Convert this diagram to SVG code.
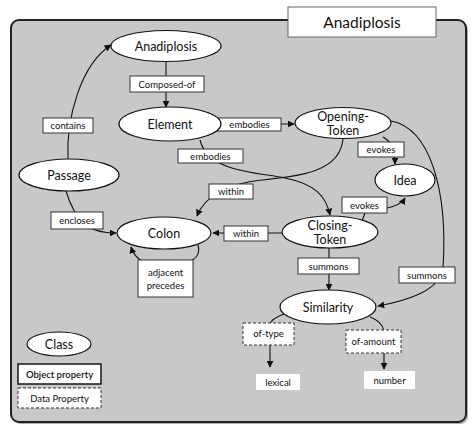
<svg xmlns="http://www.w3.org/2000/svg" width="474" height="431" viewBox="0 0 474 431">
<defs>
<marker id="arr" viewBox="0 0 10 10" refX="9" refY="5" markerWidth="7" markerHeight="7" orient="auto" markerUnits="userSpaceOnUse">
<path d="M0,0 L10,5 L0,10 z" fill="#111"/>
</marker>
<style>
.node ellipse{fill:#fff;stroke:#111;stroke-width:1.2}
.nt{font-family:Lato,"Liberation Sans",sans-serif;font-size:12.5px;fill:#111;text-anchor:middle}
.conn path{fill:none;stroke:#111;stroke-width:1.1;marker-end:url(#arr)}
.lb rect{fill:#fff;stroke:#333;stroke-width:1}
.lb rect.dash{stroke-dasharray:3,2}
.lt{font-family:Lato,"Liberation Sans",sans-serif;font-size:9.5px;fill:#111;text-anchor:middle}
.val rect{fill:#fff;stroke:none}
</style>
</defs>
<rect width="474" height="431" fill="#fff"/>
<rect x="13" y="23" width="455" height="401" rx="8" fill="#777" opacity="0.6"/>
<rect x="11" y="20" width="455" height="402" rx="8" fill="#c8c8c8" stroke="#222" stroke-width="2"/>
<g id="title">
<rect x="288" y="7" width="148" height="30" fill="#fff" stroke="#666" stroke-width="1"/>
<text x="362" y="28" font-family="Lato,'Liberation Sans',sans-serif" font-size="15.5" fill="#111" text-anchor="middle">Anadiplosis</text>
</g>
<g id="connectors" class="conn">
<path d="M68,159 C66,120 80,65 111,45"/>
<path d="M166,62 L166,107"/>
<path d="M221,124 L294,124"/>
<path d="M200,140 C208,172 255,172 285,178 S326,196 330,215"/>
<path d="M343,139 C340,172 300,176 262,180 C225,184 205,196 197,216"/>
<path d="M282,233 L213,233"/>
<path d="M66,191 C70,205 75,215 85,225 C95,232 105,233 116,233"/>
<path d="M198,245 C203,262 180,266 165,266 C148,266 135,260 131,247"/>
<path d="M383,137 C392,142 395,150 395,164"/>
<path d="M362,221 L366,210 L387,208 C397,206 402,203 405,198"/>
<path d="M391,121 C430,128 448,190 443,268 C440,290 410,300 378,306"/>
<path d="M329,248 L329,290"/>
<path d="M284,314 C276,317 271,320 270,324 L270,367"/>
<path d="M370,317 C378,320 383,325 384,331 L384,369"/>
</g>
<g id="edge-labels" class="lb">
<g id="lbl-contains"><rect x="43" y="118" width="50" height="15"/><text class="lt" x="68" y="129">contains</text></g>
<g id="lbl-composed"><rect x="130" y="76" width="74" height="16"/><text class="lt" x="167" y="87.5">Composed-of</text></g>
<g id="lbl-embodies1"><rect x="218" y="118" width="63" height="13"/><text class="lt" x="249.5" y="128">embodies</text></g>
<g id="lbl-embodies2"><rect x="178" y="149" width="65" height="14"/><text class="lt" x="210.5" y="159.5">embodies</text></g>
<g id="lbl-within1"><rect x="209" y="184" width="44" height="15"/><text class="lt" x="231" y="195">within</text></g>
<g id="lbl-within2"><rect x="224" y="226" width="44" height="15"/><text class="lt" x="246" y="237">within</text></g>
<g id="lbl-encloses"><rect x="51" y="212" width="52" height="17"/><text class="lt" x="77" y="224">encloses</text></g>
<g id="lbl-adjacent"><rect x="138" y="260" width="55" height="37"/><text class="lt" x="165.5" y="276">adjacent</text><text class="lt" x="165.5" y="289">precedes</text></g>
<g id="lbl-evokes1"><rect x="358" y="142" width="46" height="15"/><text class="lt" x="381" y="153">evokes</text></g>
<g id="lbl-evokes2"><rect x="342" y="197" width="45" height="16"/><text class="lt" x="364.5" y="208.5">evokes</text></g>
<g id="lbl-summons1"><rect x="298" y="258" width="61" height="16"/><text class="lt" x="328.5" y="269.5">summons</text></g>
<g id="lbl-summons2"><rect x="399" y="267" width="56" height="16"/><text class="lt" x="427" y="278.5">summons</text></g>
<g id="lbl-oftype"><rect class="dash" x="243" y="323" width="51" height="22"/><text class="lt" x="268.5" y="337">of-type</text></g>
<g id="lbl-ofamount"><rect class="dash" x="346" y="330" width="55" height="23"/><text class="lt" x="373.5" y="344.5">of-amount</text></g>
</g>
<g id="node-anadiplosis" class="node"><ellipse cx="166" cy="46" rx="55" ry="15.5"/><text class="nt" x="166" y="50.5">Anadiplosis</text></g>
<g id="node-element" class="node"><ellipse cx="170" cy="124" rx="51" ry="17"/><text class="nt" x="170" y="128.5">Element</text></g>
<g id="node-passage" class="node"><ellipse cx="69" cy="175" rx="50" ry="16"/><text class="nt" x="69" y="179.5">Passage</text></g>
<g id="node-opening" class="node"><ellipse cx="343" cy="123" rx="48" ry="15.5"/><text class="nt" x="343" y="120.5">Opening-</text><text class="nt" x="343" y="134.5">Token</text></g>
<g id="node-idea" class="node"><ellipse cx="405" cy="180" rx="30" ry="16"/><text class="nt" x="405" y="184.5">Idea</text></g>
<g id="node-colon" class="node"><ellipse cx="164" cy="233" rx="47" ry="16"/><text class="nt" x="164" y="237.5">Colon</text></g>
<g id="node-closing" class="node"><ellipse cx="330" cy="232" rx="48" ry="16"/><text class="nt" x="330" y="230">Closing-</text><text class="nt" x="330" y="244">Token</text></g>
<g id="node-similarity" class="node"><ellipse cx="328" cy="307" rx="48" ry="17"/><text class="nt" x="328" y="311.5">Similarity</text></g>
<g id="node-lexical" class="val"><rect x="256" y="374" width="44" height="16"/><text class="lt" x="278" y="385.5">lexical</text></g>
<g id="node-number" class="val"><rect x="364" y="371" width="51" height="18"/><text class="lt" x="389.5" y="383.5">number</text></g>
<g id="legend">
<g class="node"><ellipse cx="59" cy="344" rx="32" ry="12"/><text class="nt" x="59" y="348.5">Class</text></g>
<rect x="18" y="364" width="83" height="20" fill="#fff" stroke="#222" stroke-width="1.6"/>
<text class="lt" x="59.5" y="377.5" style="font-weight:600">Object property</text>
<rect x="18" y="388" width="83" height="20" fill="#fff" stroke="#333" stroke-width="1" stroke-dasharray="3,2"/>
<text class="lt" x="59.5" y="401.5">Data Property</text>
</g>
</svg>
